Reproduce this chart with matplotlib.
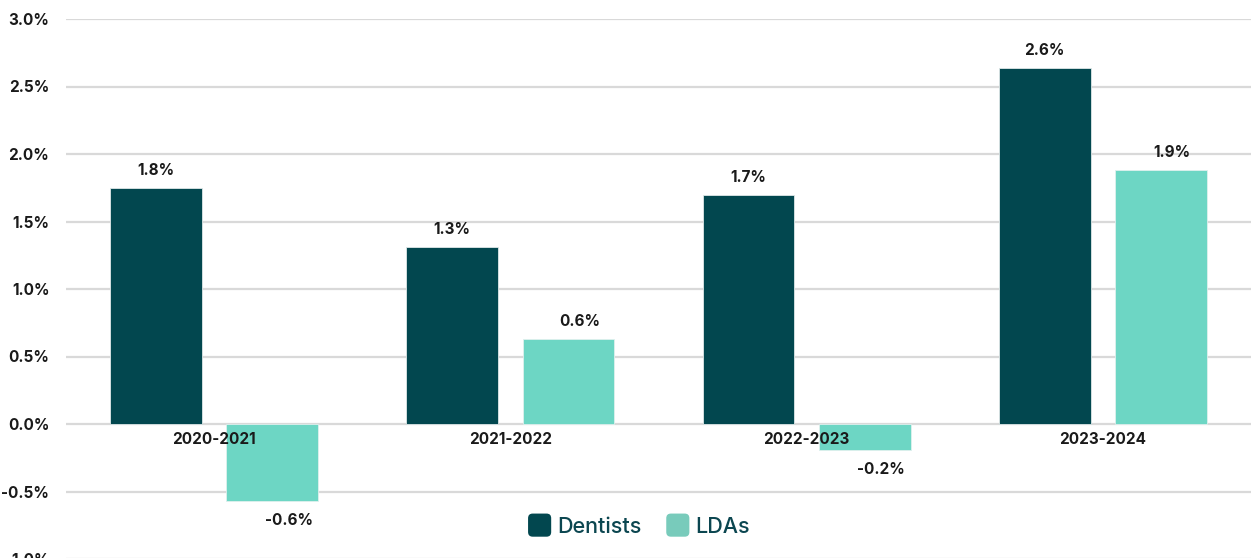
import matplotlib
matplotlib.use("Agg")
import matplotlib.pyplot as plt
import numpy as np
from matplotlib.patches import FancyBboxPatch, Patch
from matplotlib.legend_handler import HandlerPatch

categories = ["2020-2021", "2021-2022", "2022-2023", "2023-2024"]
dentists = [1.75, 1.31, 1.70, 2.64]
ldas = [-0.57, 0.63, -0.19, 1.88]
dentist_labels = ["1.8%", "1.3%", "1.7%", "2.6%"]
lda_labels = ["-0.6%", "0.6%", "-0.2%", "1.9%"]
yticks = [-1.0, -0.5, 0.0, 0.5, 1.0, 1.5, 2.0, 2.5, 3.0]

c_dent = "#02474F"
c_lda = "#6DD6C4"
c_lda_leg = "#78CBBB"
txt = "#1a1a1a"

plt.rcParams['font.family'] = ['Inter', 'DejaVu Sans']

fig = plt.figure(figsize=(12.51, 5.58), dpi=100)
ax = fig.add_axes([66/1251, -1/558, 1 - 66/1251, 540/558])
ax.spines['bottom'].set_position(('data', 0))

x = np.arange(len(categories))
w = 0.31
off = 0.196
ax.bar(x - off, dentists, w, color=c_dent, edgecolor="#dfe8e8", linewidth=0.6, zorder=2)
ax.bar(x + off, ldas, w, color=c_lda, edgecolor="#e0f0ee", linewidth=0.6, zorder=2)

for i in range(len(categories)):
    ax.annotate(dentist_labels[i], (x[i] - off, dentists[i]), xytext=(0, 7),
                textcoords="offset points", ha="center", va="bottom",
                fontsize=11, fontweight="bold", color=txt, zorder=5)
    v = ldas[i]
    if v >= 0:
        ax.annotate(lda_labels[i], (x[i] + off, v), xytext=(8, 7),
                    textcoords="offset points", ha="center", va="bottom",
                    fontsize=11, fontweight="bold", color=txt, zorder=5)
    else:
        ax.annotate(lda_labels[i], (x[i] + off, v), xytext=(12, -9),
                    textcoords="offset points", ha="center", va="top",
                    fontsize=11, fontweight="bold", color=txt, zorder=5)

ax.set_xlim(-0.5, 3.5)
ax.set_ylim(-1.0, 3.0)
ax.set_yticks(yticks)
ax.set_yticklabels([f"{t:.1f}%" for t in yticks], fontsize=11, fontweight="bold", color=txt)
ax.set_xticks(x)
ax.set_xticklabels(categories, fontsize=11, fontweight="bold", color=txt)
for s in ax.spines.values():
    s.set_visible(False)
ax.tick_params(axis='both', length=0)
ax.tick_params(axis='y', pad=12)
ax.tick_params(axis='x', pad=6)
ax.yaxis.grid(True, color="#d9d9d9", linewidth=1.6, zorder=0)
ax.set_axisbelow(True)
ax.xaxis.set_zorder(6)
for lbl in ax.get_xticklabels():
    lbl.set_fontweight("bold")
    lbl.set_zorder(6)


class RoundHandler(HandlerPatch):
    def create_artists(self, legend, orig_handle, xdescent, ydescent, width, height, fontsize, trans):
        s = min(width, height) * 1.2
        p = FancyBboxPatch((xdescent + (width - s) / 2 - xdescent * 2, -ydescent + (height - s) / 2),
                           s, s, boxstyle="round,pad=0,rounding_size=%f" % (s * 0.2),
                           facecolor=orig_handle.get_facecolor(), edgecolor="none", transform=trans)
        return [p]


handles = [Patch(facecolor=c_dent, label="Dentists"), Patch(facecolor=c_lda_leg, label="LDAs")]
leg = fig.legend(handles=handles, loc="center", bbox_to_anchor=(0.511, 1 - 526/558), ncol=2,
                 frameon=False, handlelength=1.0, handleheight=1.0,
                 prop={'size': 15.5, 'weight': 'medium'},
                 handletextpad=0.3, columnspacing=1.2,
                 handler_map={Patch: RoundHandler()})
for t in leg.get_texts():
    t.set_color("#0B4650")

fig.savefig("out.png", dpi=100)
